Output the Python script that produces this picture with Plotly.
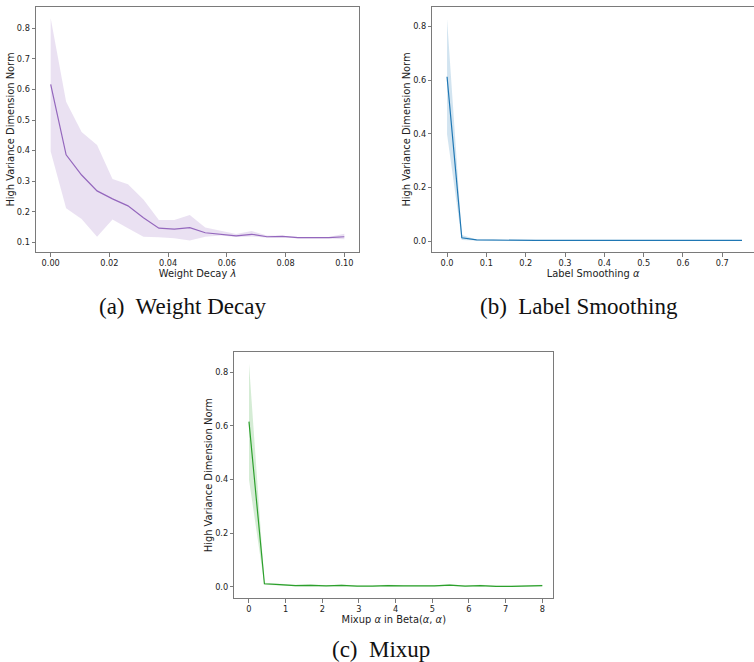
import plotly.graph_objects as go

# ---------------- data ----------------
wd_x = [0.0, 0.00526, 0.01053, 0.01579, 0.02105, 0.02632, 0.03158, 0.03684, 0.04211, 0.04737,
        0.05263, 0.05789, 0.06316, 0.06842, 0.07368, 0.07895, 0.08421, 0.08947, 0.09474, 0.1]
wd_mean = [0.617, 0.386, 0.320, 0.268, 0.242, 0.219, 0.180, 0.146, 0.143, 0.148,
           0.131, 0.127, 0.121, 0.126, 0.118, 0.119, 0.115, 0.115, 0.115, 0.118]
wd_upper = [0.833, 0.560, 0.461, 0.418, 0.307, 0.290, 0.240, 0.173, 0.173, 0.189,
            0.148, 0.138, 0.127, 0.137, 0.122, 0.121, 0.117, 0.117, 0.117, 0.128]
wd_lower = [0.397, 0.211, 0.176, 0.118, 0.174, 0.146, 0.118, 0.116, 0.113, 0.106,
            0.118, 0.122, 0.117, 0.119, 0.115, 0.116, 0.112, 0.112, 0.112, 0.110]

ls_x = [0.0, 0.0375, 0.075, 0.1125, 0.15, 0.1875, 0.225, 0.2625, 0.3, 0.3375, 0.375,
        0.4125, 0.45, 0.4875, 0.525, 0.5625, 0.6, 0.6375, 0.675, 0.7125, 0.75]
ls_mean = [0.613, 0.012, 0.004, 0.003, 0.003, 0.002, 0.002, 0.002, 0.002, 0.002, 0.002,
           0.002, 0.002, 0.002, 0.002, 0.002, 0.002, 0.002, 0.002, 0.002, 0.002]
ls_upper = [0.828, 0.022, 0.006, 0.005, 0.004, 0.004, 0.004, 0.004, 0.004, 0.004, 0.004,
            0.004, 0.004, 0.004, 0.004, 0.004, 0.004, 0.004, 0.004, 0.004, 0.004]
ls_lower = [0.398, 0.004, 0.002, 0.001, 0.001, 0.001, 0.001, 0.000, 0.000, 0.000, 0.000,
            0.000, 0.000, 0.000, 0.000, 0.000, 0.000, 0.000, 0.000, 0.000, 0.000]

mx_x = [0.0, 0.421, 0.842, 1.263, 1.684, 2.105, 2.526, 2.947, 3.368, 3.789,
        4.211, 4.632, 5.053, 5.474, 5.895, 6.316, 6.737, 7.158, 7.579, 8.0]
mx_mean = [0.616, 0.011, 0.008, 0.004, 0.005, 0.003, 0.005, 0.002, 0.002, 0.004,
           0.003, 0.003, 0.003, 0.006, 0.002, 0.004, 0.001, 0.001, 0.002, 0.004]
mx_upper = [0.834, 0.015, 0.011, 0.007, 0.009, 0.006, 0.008, 0.005, 0.005, 0.007,
            0.006, 0.006, 0.006, 0.009, 0.005, 0.007, 0.004, 0.004, 0.005, 0.007]
mx_lower = [0.400, 0.007, 0.005, 0.002, 0.002, 0.001, 0.002, 0.000, 0.000, 0.001,
            0.001, 0.001, 0.001, 0.003, 0.000, 0.001, 0.000, 0.000, 0.000, 0.002]

y_title = "High Variance Dimension Norm"
x_titles = ["Weight Decay <i>λ</i>", "Label Smoothing <i>α</i>", "Mixup <i>α</i> in Beta(<i>α</i>, <i>α</i>)"]
captions = ["(a)\u00a0 Weight Decay", "(b)\u00a0 Label Smoothing", "(c)\u00a0 Mixup"]

# ---------------- figure ----------------
W, H = 754, 662
fig = go.Figure()

panels = [
    dict(x=wd_x, m=wd_mean, u=wd_upper, l=wd_lower, col=(148, 103, 189), ax="x", ay="y"),
    dict(x=ls_x, m=ls_mean, u=ls_upper, l=ls_lower, col=(31, 119, 180), ax="x2", ay="y2"),
    dict(x=mx_x, m=mx_mean, u=mx_upper, l=mx_lower, col=(44, 160, 44), ax="x3", ay="y3"),
]
for p in panels:
    r, g, b = p["col"]
    fig.add_trace(go.Scatter(
        x=list(p["x"]) + list(p["x"])[::-1], y=list(p["u"]) + list(p["l"])[::-1],
        fill="toself", fillcolor=f"rgba({r},{g},{b},0.2)", line=dict(width=0),
        mode="lines", hoverinfo="skip", showlegend=False, xaxis=p["ax"], yaxis=p["ay"]))
    fig.add_trace(go.Scatter(
        x=p["x"], y=p["m"], mode="lines", line=dict(color=f"rgb({r},{g},{b})", width=1.2),
        showlegend=False, xaxis=p["ax"], yaxis=p["ay"]))

FR = "#7a7a7a"
tickfont = dict(family="DejaVu Sans", size=8.2, color="#222")
titlefont = dict(family="DejaVu Sans", size=9.9, color="#222")

def px_x(v):
    return v / W

def px_y(v):
    return 1 - v / H

common = dict(showline=True, mirror=True, linecolor=FR, linewidth=1, showgrid=False,
              zeroline=False, ticks="outside", ticklen=3.5, tickcolor=FR, tickwidth=1,
              tickfont=tickfont)

fig.update_layout(
    width=W, height=H, margin=dict(l=0, r=0, t=0, b=0),
    paper_bgcolor="white", plot_bgcolor="white", showlegend=False,
    xaxis=dict(domain=[px_x(36), px_x(359)], range=[-0.005, 0.105], tickvals=[0, 0.02, 0.04, 0.06, 0.08, 0.1],
               tickformat=".2f", title=dict(text=x_titles[0], font=titlefont, standoff=1), anchor="y", **common),
    yaxis=dict(domain=[px_y(252), px_y(7)], range=[0.068, 0.870], tickvals=[0.1, 0.2, 0.3, 0.4, 0.5, 0.6, 0.7, 0.8],
               tickformat=".1f", title=dict(text=y_title, font=titlefont, standoff=0), anchor="x", **common),
    xaxis2=dict(domain=[px_x(432.3), 1.0], range=[-0.0375, 0.7806], tickvals=[0, 0.1, 0.2, 0.3, 0.4, 0.5, 0.6, 0.7],
                tickformat=".1f", title=dict(text=x_titles[1], font=titlefont, standoff=1), anchor="y2", **common),
    yaxis2=dict(domain=[px_y(252), px_y(7)], range=[-0.041, 0.873], tickvals=[0, 0.2, 0.4, 0.6, 0.8],
                tickformat=".1f", title=dict(text=y_title, font=titlefont, standoff=0), anchor="x2", **common),
    xaxis3=dict(domain=[px_x(234.3), px_x(553.3)], range=[-0.4, 8.3], tickvals=list(range(9)),
                title=dict(text=x_titles[2], font=titlefont, standoff=1), anchor="y3", **common),
    yaxis3=dict(domain=[px_y(598), px_y(352.3)], range=[-0.042, 0.8746], tickvals=[0, 0.2, 0.4, 0.6, 0.8],
                tickformat=".1f", title=dict(text=y_title, font=titlefont, standoff=0), anchor="x3", **common),
)

cap_pos = [(182, 306.5), (578.5, 306), (381, 649.5)]
for txt, (cx, cy) in zip(captions, cap_pos):
    fig.add_annotation(text=txt, xref="paper", yref="paper", x=px_x(cx), y=px_y(cy),
                       showarrow=False, xanchor="center", yanchor="middle", borderpad=0,
                       font=dict(family="Liberation Serif", size=23, color="#111"))

fig.write_html("out.html", config={"displayModeBar": False},
               post_script="document.body.style.margin='0';document.body.style.overflow='hidden';")
